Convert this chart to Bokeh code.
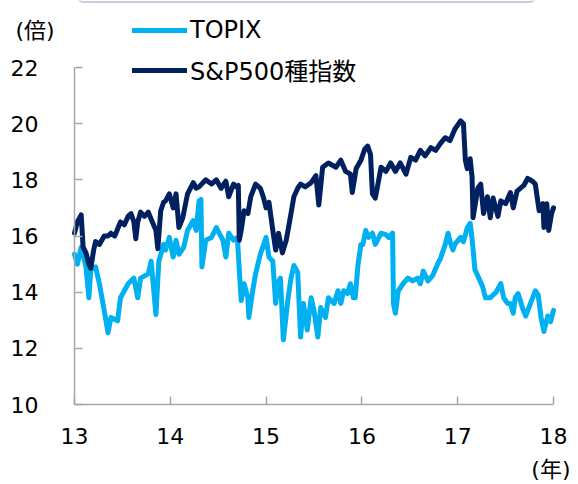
from bokeh.plotting import figure
from bokeh.models import Range1d, FixedTicker, Legend, LegendItem, Label, BoxAnnotation
from bokeh.embed import file_html
from bokeh.resources import INLINE

# S&P500 forward PER (decimal year, value)
sp_years = [13.00, 13.03, 13.07, 13.09, 13.12, 13.15, 13.17, 13.20, 13.22, 13.26,
            13.31, 13.35, 13.38, 13.42, 13.48, 13.52, 13.56, 13.59, 13.62, 13.64,
            13.66, 13.69, 13.73, 13.77, 13.80, 13.85, 13.87, 13.90, 13.93, 13.95,
            13.99, 14.03, 14.06, 14.09, 14.13, 14.18, 14.24, 14.27, 14.30, 14.37,
            14.43, 14.48, 14.53, 14.58, 14.61, 14.66, 14.69, 14.71, 14.72, 14.74,
            14.77, 14.81, 14.84, 14.89, 14.94, 14.97, 15.00, 15.03, 15.07, 15.10,
            15.13, 15.17, 15.21, 15.26, 15.29, 15.33, 15.36, 15.41, 15.47, 15.52,
            15.55, 15.59, 15.65, 15.73, 15.78, 15.83, 15.88, 15.90, 15.94, 15.99,
            16.03, 16.06, 16.09, 16.11, 16.14, 16.20, 16.25, 16.30, 16.35, 16.40,
            16.46, 16.51, 16.56, 16.61, 16.66, 16.72, 16.77, 16.82, 16.87, 16.92,
            16.97, 17.03, 17.06, 17.08, 17.10, 17.13, 17.15, 17.16, 17.21, 17.24,
            17.27, 17.31, 17.34, 17.37, 17.42, 17.45, 17.50, 17.55, 17.58, 17.62,
            17.69, 17.73, 17.78, 17.81, 17.85, 17.89, 17.90, 17.93, 17.95, 17.98,
            18.00]
sp500 = [16.1, 16.5, 16.75, 15.6, 15.4, 15.0, 14.85, 15.5, 15.8, 15.7,
         16.0, 16.0, 16.1, 16.0, 16.5, 16.4, 16.7, 16.8, 16.5, 15.9,
         16.5, 16.85, 16.7, 16.85, 16.6, 16.2, 15.55, 16.9, 17.2, 17.25,
         17.5, 17.0, 17.5, 16.3, 16.65, 17.5, 17.9, 17.7, 17.75, 18.0,
         17.85, 18.0, 17.7, 17.95, 17.4, 17.85, 17.75, 17.8, 15.85, 16.2,
         16.9, 16.8, 17.4, 17.85, 17.7, 17.4, 17.0, 17.2, 16.2, 15.5,
         16.1, 15.4, 15.85, 16.8, 17.4, 17.7, 17.85, 17.75, 17.9, 18.15,
         17.1, 18.45, 18.6, 18.45, 18.7, 18.3, 18.2, 17.55, 18.4, 18.7,
         19.1, 19.2, 18.9, 17.5, 17.35, 18.45, 18.3, 18.6, 18.3, 18.6,
         18.2, 18.8, 18.7, 19.05, 18.85, 19.15, 19.05, 19.3, 19.5, 19.4,
         19.8, 20.1, 20.0, 18.7, 18.4, 18.75, 18.1, 16.65, 17.7, 17.85,
         16.8, 17.4, 16.65, 17.35, 16.7, 17.25, 17.15, 17.55, 17.0, 17.6,
         17.8, 18.05, 17.95, 17.85, 16.9, 17.15, 16.3, 17.15, 16.2, 16.8,
         17.0]

# TOPIX forward PER (decimal year, value)
tp_years = [13.00, 13.03, 13.07, 13.12, 13.15, 13.17, 13.22, 13.26, 13.31, 13.35,
            13.38, 13.45, 13.48, 13.56, 13.62, 13.66, 13.69, 13.77, 13.80, 13.85,
            13.88, 13.93, 13.95, 13.99, 14.03, 14.06, 14.09, 14.14, 14.18, 14.24,
            14.27, 14.30, 14.32, 14.33, 14.37, 14.43, 14.48, 14.51, 14.55, 14.58,
            14.61, 14.66, 14.70, 14.72, 14.74, 14.77, 14.81, 14.82, 14.86, 14.89,
            14.94, 15.00, 15.03, 15.07, 15.10, 15.12, 15.15, 15.18, 15.23, 15.26,
            15.29, 15.33, 15.36, 15.39, 15.43, 15.47, 15.50, 15.54, 15.57, 15.62,
            15.65, 15.71, 15.75, 15.78, 15.81, 15.85, 15.88, 15.91, 15.93, 15.96,
            15.99, 16.01, 16.04, 16.07, 16.11, 16.14, 16.20, 16.25, 16.28, 16.32,
            16.33, 16.35, 16.38, 16.43, 16.48, 16.53, 16.58, 16.61, 16.64, 16.69,
            16.74, 16.79, 16.82, 16.87, 16.90, 16.92, 16.95, 16.97, 17.03, 17.06,
            17.10, 17.13, 17.15, 17.18, 17.22, 17.26, 17.29, 17.34, 17.40, 17.45,
            17.48, 17.52, 17.55, 17.58, 17.60, 17.63, 17.68, 17.71, 17.76, 17.81,
            17.84, 17.87, 17.90, 17.94, 17.97, 18.00]
topix = [15.35, 15.0, 15.6, 14.9, 13.8, 14.8, 14.9, 14.3, 13.35, 12.55,
         13.1, 12.98, 13.8, 14.3, 14.5, 13.8, 14.5, 14.65, 15.1, 13.2,
         15.1, 15.7, 15.5, 15.95, 15.25, 15.85, 15.35, 15.6, 16.2, 16.55,
         16.2, 17.25, 17.3, 14.9, 15.85, 15.95, 16.3, 16.1, 15.85, 15.25,
         16.1, 15.85, 15.95, 14.8, 13.7, 14.3, 13.8, 13.1, 14.05, 14.65,
         15.35, 15.95, 15.25, 15.1, 13.6, 14.3, 14.5, 12.3, 13.8, 14.5,
         14.95, 14.7, 12.4, 13.6, 12.65, 13.8, 13.35, 12.4, 13.45, 13.1,
         13.8, 13.6, 14.05, 13.6, 14.05, 13.95, 14.3, 13.8, 13.8, 15.0,
         15.7, 15.7, 16.2, 15.95, 16.1, 15.7, 16.1, 16.05, 15.95, 16.1,
         13.6, 13.25, 14.05, 14.3, 14.5, 14.4, 14.5, 14.3, 14.75, 14.4,
         14.6, 15.0, 15.2, 15.7, 16.1, 15.8, 15.5, 15.7, 15.95, 15.8,
         16.3, 16.45, 15.9, 14.8, 14.5, 14.2, 13.8, 13.8, 14.0, 14.3,
         13.8, 13.6, 13.6, 13.25, 13.8, 13.95, 13.4, 13.15, 13.6, 14.05,
         13.9, 13.1, 12.6, 13.15, 12.95, 13.35]

x_ticks = [13, 14, 15, 16, 17, 18]
y_ticks = [10, 12, 14, 16, 18, 20, 22]
series_names = ["TOPIX", "S&P500種指数"]
y_unit = "(倍)"
x_unit = "(年)"

LATIN = "DejaVu Sans, Noto Sans CJK JP"
AXIS_GRAY = "#A6A6A6"

# layout: the plot frame fills the whole canvas; the axes are drawn at fixed
# positions so that legend and unit labels outside the data area are not clipped
W, H = 578, 484
AX_LEFT, AX_RIGHT, AX_TOP, AX_BOTTOM = 74, 553, 67, 404   # pixel box of the data area
X0, X1 = x_ticks[0], x_ticks[-1]
Y0, Y1 = y_ticks[0], y_ticks[-1]
px_x = (AX_RIGHT - AX_LEFT) / (X1 - X0)
px_y = (AX_BOTTOM - AX_TOP) / (Y1 - Y0)
x_range = Range1d(X0 - AX_LEFT / px_x, X1 + (W - AX_RIGHT) / px_x)
y_range = Range1d(Y0 - (H - AX_BOTTOM) / px_y, Y1 + AX_TOP / px_y)

p = figure(width=W, height=H, output_backend="svg", toolbar_location=None,
           x_range=x_range, y_range=y_range, min_border=0)
p.outline_line_color = None
p.xgrid.visible = False
p.ygrid.visible = False

for ax in (p.xaxis[0], p.yaxis[0]):
    ax.axis_line_color = AXIS_GRAY
    ax.axis_line_width = 1.5
    ax.major_tick_line_color = AXIS_GRAY
    ax.major_tick_line_width = 1.5
    ax.major_tick_in = 8
    ax.major_tick_out = 0
    ax.minor_tick_line_color = None
    ax.major_label_text_font = LATIN
    ax.major_label_text_font_size = "22px"
    ax.major_label_text_color = "#000000"

p.xaxis.ticker = FixedTicker(ticks=x_ticks)
p.yaxis.ticker = FixedTicker(ticks=y_ticks)
p.xaxis.bounds = (X0, X1)
p.yaxis.bounds = (Y0, Y1)
p.xaxis.fixed_location = Y0
p.yaxis.fixed_location = X0
p.xaxis.major_label_standoff = 23
p.yaxis.major_label_standoff = 36

r_tp = p.line(tp_years, topix, line_color="#00B0F0", line_width=5,
              line_join="round", line_cap="round")
r_sp = p.line(sp_years, sp500, line_color="#002060", line_width=5,
              line_join="round", line_cap="round")

legend = Legend(items=[LegendItem(label=series_names[0], renderers=[r_tp]),
                       LegendItem(label=series_names[1], renderers=[r_sp])],
                location=(132, H - 87), orientation="vertical",
                glyph_width=55, glyph_height=20, label_height=20,
                spacing=8, padding=0, margin=0, label_standoff=3,
                border_line_color=None, background_fill_alpha=0,
                label_text_font=LATIN, label_text_font_size="24px",
                label_text_color="#000000")
p.add_layout(legend, "center")

# unit labels (screen units, y measured upward from the bottom)
p.add_layout(Label(x=15, y=H - 30, x_units="screen", y_units="screen",
                   text=y_unit, text_font=LATIN, text_font_size="22px",
                   text_align="left", text_baseline="middle", text_color="#000000"))
p.add_layout(Label(x=570, y=H - 469, x_units="screen", y_units="screen",
                   text=x_unit, text_font=LATIN, text_font_size="22px",
                   text_align="right", text_baseline="middle", text_color="#000000"))

# bottom edge of a header box that is cut off at the top of the image
p.add_layout(BoxAnnotation(left=77, right=535, bottom=H - 1.5, top=H + 30,
                           left_units="screen", right_units="screen",
                           bottom_units="screen", top_units="screen",
                           fill_alpha=0, line_color="#44648F", line_width=2,
                           border_radius=6))

open("out.html", "w").write(file_html(p, INLINE))
